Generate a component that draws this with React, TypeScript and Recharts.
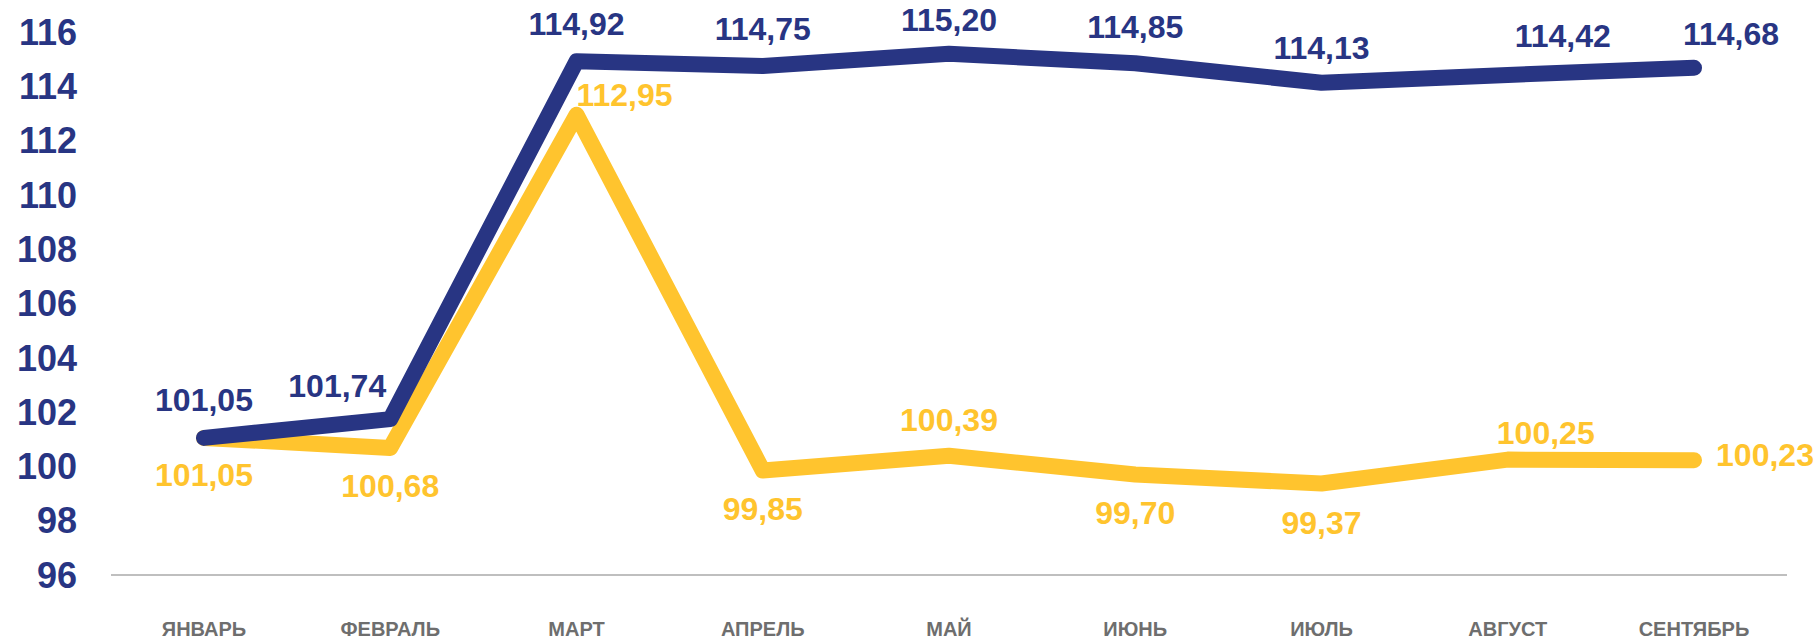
import { LineChart, Line, XAxis, YAxis, LabelList } from "recharts"

const months = ["ЯНВАРЬ", "ФЕВРАЛЬ", "МАРТ", "АПРЕЛЬ", "МАЙ", "ИЮНЬ", "ИЮЛЬ", "АВГУСТ", "СЕНТЯБРЬ"]
const blueValues = [101.05, 101.74, 114.92, 114.75, 115.2, 114.85, 114.13, 114.42, 114.68]
const yellowValues = [101.05, 100.68, 112.95, 99.85, 100.39, 99.7, 99.37, 100.25, 100.23]
const yTicks = [96, 98, 100, 102, 104, 106, 108, 110, 112, 114, 116]

// label placement relative to the point, px
const blueDx = [0, -53, 0, 0, 0, 0, 0, 55, 37]
const blueDy = [-38, -33, -37, -37, -34, -36, -35, -39, -34]
const yellowDx = [0, 0, 48, 0, 0, 0, 0, 38, 71]
const yellowDy = [37, 38, -20, 39, -36, 38, 39, -27, -5]

const BLUE = "#283583"
const YELLOW = "#FFC42E"
const FONT = "'Liberation Sans', Arial, sans-serif"

const data = months.map((m, i) => ({ month: m, blue: blueValues[i], yellow: yellowValues[i] }))

const fmt = (v: number) => v.toFixed(2).replace(".", ",")

function makeLabel(color: string, dxs: number[], dys: number[]) {
  return (props: any) => {
    const { x, y, value, index } = props
    return (
      <text
        x={x + dxs[index]}
        y={y + dys[index]}
        textAnchor="middle"
        dominantBaseline="central"
        fill={color}
        fontSize={32}
        fontWeight="bold"
        fontFamily={FONT}
      >
        {fmt(value)}
      </text>
    )
  }
}

export default function App() {
  return (
    <div>
      <style>{`body{margin:0}`}</style>
      <LineChart width={1816} height={640} data={data} margin={{ top: 32, right: 29, left: 0, bottom: 0 }}>
        <XAxis
          dataKey="month"
          height={65}
          padding={{ left: 93, right: 93 }}
          tickLine={false}
          tickSize={0}
          tickMargin={47}
          axisLine={{ stroke: "#BFBFBF", strokeWidth: 2 }}
          tick={{ fill: "#6E6E6E", fontSize: 20, fontWeight: "bold", fontFamily: "'Liberation Sans Narrow', 'Arial Narrow', " + FONT }}
        />
        <YAxis
          domain={[96, 116]}
          ticks={yTicks}
          width={111}
          axisLine={false}
          tickLine={false}
          tickSize={0}
          tickMargin={34}
          tick={{ fill: BLUE, fontSize: 36, fontWeight: "bold", fontFamily: FONT }}
        />
        <Line
          dataKey="yellow"
          stroke={YELLOW}
          strokeWidth={16}
          strokeLinecap="round"
          strokeLinejoin="round"
          dot={false}
          activeDot={false}
          isAnimationActive={false}
        >
          <LabelList dataKey="yellow" content={makeLabel(YELLOW, yellowDx, yellowDy)} />
        </Line>
        <Line
          dataKey="blue"
          stroke={BLUE}
          strokeWidth={16}
          strokeLinecap="round"
          strokeLinejoin="round"
          dot={false}
          activeDot={false}
          isAnimationActive={false}
        >
          <LabelList dataKey="blue" content={makeLabel(BLUE, blueDx, blueDy)} />
        </Line>
      </LineChart>
    </div>
  )
}
